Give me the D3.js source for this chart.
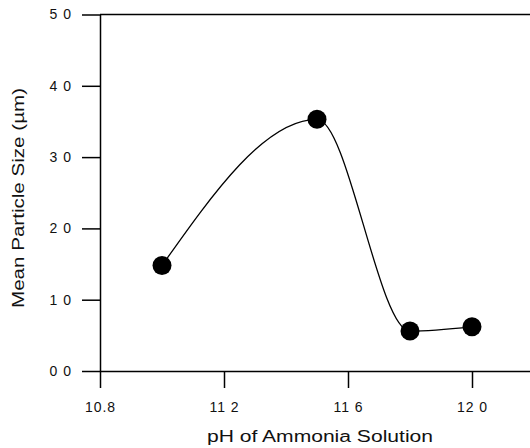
<!DOCTYPE html>
<html>
<head>
<meta charset="utf-8">
<script src="https://cdn.jsdelivr.net/npm/d3@7"></script>
<style>
  body { margin: 0; background: #fff; }
  svg { display: block; font-family: "Liberation Sans", Arial, sans-serif; }
</style>
</head>
<body>
<svg width="530" height="448"></svg>
<script>
// pH of the ammonia solution vs mean particle size (um)
const phValues = [11.0, 11.5, 11.8, 12.0];
const particleSize = [1.48, 3.53, 0.56, 0.62];

const yTicks = [0, 1, 2, 3, 4, 5];
const yTickLabels = ["0 0", "1 0", "2 0", "3 0", "4 0", "5 0"];
const xTicks = [10.8, 11.2, 11.6, 12.0];
const xTickLabels = ["10.8", "11 2", "11 6", "12 0"];

const svg = d3.select("svg");

const x = d3.scaleLinear().domain([10.8, 12.2]).range([100, 534]);
const y = d3.scaleLinear().domain([0, 5]).range([371, 14.5]);

const points = phValues.map((p, i) => ({ x: p, y: particleSize[i] }));

// frame top line
svg.append("line")
  .attr("x1", x(10.8)).attr("x2", x(12.2))
  .attr("y1", y(5)).attr("y2", y(5))
  .attr("stroke", "#000").attr("stroke-width", 1.5);

const yAxis = svg.append("g")
  .attr("transform", `translate(${x(10.8)},0)`)
  .call(d3.axisLeft(y)
    .tickValues(yTicks)
    .tickFormat((d, i) => yTickLabels[i])
    .tickSize(18)
    .tickSizeOuter(0)
    .tickPadding(10));

const xAxis = svg.append("g")
  .attr("transform", `translate(0,${y(0)})`)
  .call(d3.axisBottom(x)
    .tickValues(xTicks)
    .tickFormat((d, i) => xTickLabels[i])
    .tickSize(17)
    .tickSizeOuter(0)
    .tickPadding(14));

[yAxis, xAxis].forEach(g => {
  g.selectAll("path, line").attr("stroke", "#000").attr("stroke-width", 1.5);
  g.selectAll("text")
    .attr("fill", "#111")
    .style("font-size", "14px")
    .style("letter-spacing", "1px");
});

// smoothed curve
const line = d3.line()
  .x(d => x(d.x))
  .y(d => y(d.y))
  .curve(d3.curveMonotoneX);

svg.append("path")
  .datum(points)
  .attr("d", line)
  .attr("fill", "none")
  .attr("stroke", "#000")
  .attr("stroke-width", 1.3);

svg.selectAll(".dot")
  .data(points)
  .enter()
  .append("circle")
  .attr("class", "dot")
  .attr("cx", d => x(d.x))
  .attr("cy", d => y(d.y))
  .attr("r", 9.5)
  .attr("fill", "#000");

// axis titles
svg.append("text")
  .attr("x", 320)
  .attr("y", 442)
  .attr("text-anchor", "middle")
  .attr("textLength", 226)
  .attr("lengthAdjust", "spacingAndGlyphs")
  .style("font-size", "16px")
  .attr("fill", "#111")
  .text("pH of Ammonia Solution");

svg.append("text")
  .attr("transform", "translate(24,198) rotate(-90)")
  .attr("text-anchor", "middle")
  .attr("textLength", 220)
  .attr("lengthAdjust", "spacingAndGlyphs")
  .style("font-size", "16px")
  .attr("fill", "#111")
  .text("Mean Particle Size (µm)");
</script>
</body>
</html>
